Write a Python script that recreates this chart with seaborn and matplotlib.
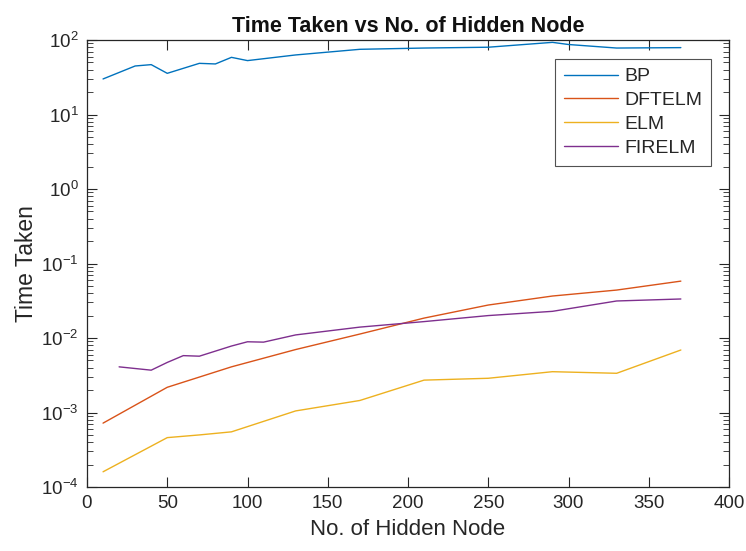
import numpy as np
import pandas as pd
import matplotlib
matplotlib.use("Agg")
import matplotlib.pyplot as plt
from matplotlib.ticker import LogLocator, NullFormatter
import seaborn as sns

# Data
bp_x = [10, 30, 40, 50, 70, 80, 90, 100, 130, 170, 210, 250, 290, 300, 330, 370]
bp_y = [30, 44.8, 46.7, 35.7, 48.6, 47.7, 58.5, 52.9, 63, 75, 78, 80, 93, 87, 78, 79]

dftelm_x = [10, 50, 90, 130, 170, 210, 250, 290, 330, 370]
dftelm_y = [0.00072, 0.00218, 0.0041, 0.0070, 0.0113, 0.0185, 0.0277, 0.0366, 0.044, 0.058]

elm_x = [10, 50, 70, 90, 130, 170, 210, 250, 290, 330, 370]
elm_y = [0.00016, 0.00046, 0.0005, 0.00055, 0.00105, 0.00145, 0.00272, 0.00288, 0.00353, 0.00336, 0.0069]

firelm_x = [20, 40, 50, 60, 70, 90, 100, 110, 130, 170, 210, 250, 290, 330, 370]
firelm_y = [0.0041, 0.0037, 0.0047, 0.0058, 0.0057, 0.0078, 0.0089, 0.0088, 0.011, 0.014, 0.0166, 0.020, 0.0228, 0.0314, 0.0334]

series = ["BP", "DFTELM", "ELM", "FIRELM"]
colors = ["#0072BD", "#D95319", "#EDB120", "#7E2F8E"]

frames = []
for name, xs, ys in zip(series,
                        [bp_x, dftelm_x, elm_x, firelm_x],
                        [bp_y, dftelm_y, elm_y, firelm_y]):
    frames.append(pd.DataFrame({"x": xs, "y": ys, "method": name}))
df = pd.concat(frames, ignore_index=True)

sns.set_theme(style="white")
plt.rcParams["font.family"] = ["Liberation Sans", "DejaVu Sans"]
plt.rcParams["mathtext.fontset"] = "custom"
plt.rcParams["mathtext.rm"] = "Liberation Sans"
plt.rcParams["mathtext.it"] = "Liberation Sans:italic"

fig = plt.figure(figsize=(7.46, 5.51), dpi=100)
ax = fig.add_axes([87 / 746, 1 - 487 / 551, (729 - 87) / 746, (487 - 40) / 551])

sns.lineplot(data=df, x="x", y="y", hue="method", hue_order=series,
             palette=colors, ax=ax, linewidth=1.0, estimator=None, sort=False)

ax.set_yscale("log")
ax.set_xlim(0, 400)
ax.set_ylim(1e-4, 1e2)
ax.set_xticks(np.arange(0, 401, 50))
ax.set_yticks([1e-4, 1e-3, 1e-2, 1e-1, 1e0, 1e1, 1e2])
ax.yaxis.set_minor_locator(LogLocator(base=10, subs=np.arange(2, 10), numticks=20))
ax.yaxis.set_minor_formatter(NullFormatter())

ax.tick_params(axis="both", which="major", direction="in", length=7, width=0.8,
               top=True, right=True, bottom=True, left=True,
               labelsize=13.5, colors="#262626", pad=6)
ax.tick_params(axis="y", which="minor", direction="in", length=4, width=0.6,
               left=True, right=True, colors="#262626")
ax.tick_params(axis="x", which="minor", bottom=False, top=False)

for s in ax.spines.values():
    s.set_visible(True)
    s.set_color("#262626")
    s.set_linewidth(0.9)

ax.set_xlabel("No. of Hidden Node", fontsize=16, color="#262626", labelpad=5)
ax.set_ylabel("Time Taken", fontsize=16.5, color="#262626", labelpad=2)
ax.set_title("Time Taken vs No. of Hidden Node", fontsize=15.5, fontweight="bold",
             color="#111111", pad=6)

leg = ax.legend(loc="upper right", bbox_to_anchor=(0.972, 0.9575), fontsize=14,
                frameon=True, fancybox=False, handlelength=2.8, borderpad=0.45,
                labelspacing=0.32, handletextpad=0.3, borderaxespad=0)
leg.get_frame().set_edgecolor("#262626")
leg.get_frame().set_linewidth(0.8)

fig.savefig("out.png", dpi=100, facecolor="white")
